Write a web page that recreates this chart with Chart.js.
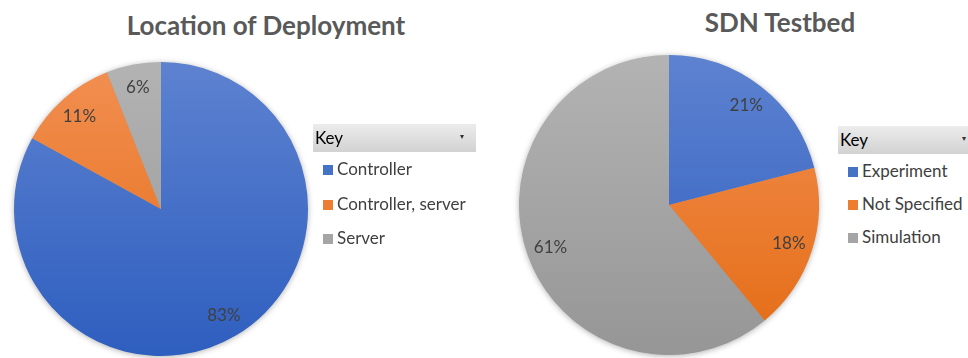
<!DOCTYPE html>
<html>
<head>
<meta charset="utf-8">
<script src="https://cdn.jsdelivr.net/npm/chart.js@4.4.0/dist/chart.umd.min.js"></script>
<style>
  body { margin: 0; width: 968px; height: 358px; background: #fff; overflow: hidden; position: relative;
         font-family: Lato, "Open Sans", sans-serif; }
  .title { position: absolute; font-weight: bold; color: #595959; font-size: 26px; white-space: nowrap;
           transform: translateX(-50%); line-height: 1; }
  canvas { position: absolute; }
  .key { position: absolute; color: #404040; font-size: 17px; }
  .keyhead { height: 28px; line-height: 28px; color: #000; padding-left: 2px;
             background: linear-gradient(#ececec, #d2d2d2); position: relative; }
  .keyhead span { position: absolute; right: 12px; top: -2px; font-size: 8px; color: #333; }
  .item { position: absolute; white-space: nowrap; line-height: 20px; }
  .item i { display: inline-block; width: 10px; height: 10px; margin-right: 4px; vertical-align: 0px; }
</style>
</head>
<body>
<div class="title" id="t1" style="left:266px; top:12px;">Location of Deployment</div>
<div class="title" id="t2" style="left:780px; top:9px;">SDN Testbed</div>
<canvas id="pie1" width="314" height="314" style="left:4px; top:52px;"></canvas>
<canvas id="pie2" width="320" height="320" style="left:509px; top:45px;"></canvas>
<div class="key" id="key1" style="left:313px; top:124px; width:163px;"></div>
<div class="key" id="key2" style="left:838px; top:126px; width:140px;"></div>
<script>
"use strict";
const deployLabels = ['Controller', 'Controller, server', 'Server'];
const deployValues = [83, 11, 6];
const testbedLabels = ['Experiment', 'Not Specified', 'Simulation'];
const testbedValues = [21, 18, 61];

// blue, orange, gray : [top, bottom, legend]
const shades = [
  ['#5d82d0', '#2e5ebf', '#4472c4'],
  ['#f28f52', '#e46c14', '#ed7d31'],
  ['#b3b3b3', '#969696', '#a5a5a5']
];

function sliceFill(c) {
  const chart = c.chart;
  const area = chart.chartArea;
  const s = shades[c.dataIndex];
  if (!area) return s[2];
  const g = chart.ctx.createLinearGradient(0, area.top, 0, area.bottom);
  g.addColorStop(0, s[0]);
  g.addColorStop(1, s[1]);
  return g;
}

const pieShadow = {
  id: 'pieShadow',
  beforeDatasetsDraw(chart) {
    const arc = chart.getDatasetMeta(0).data[0];
    if (!arc) return;
    const ctx = chart.ctx;
    ctx.save();
    ctx.shadowColor = 'rgba(0,0,0,0.35)';
    ctx.shadowBlur = 6;
    ctx.shadowOffsetY = 1;
    ctx.fillStyle = '#999';
    ctx.beginPath();
    ctx.arc(arc.x, arc.y, arc.outerRadius - 0.5, 0, Math.PI * 2);
    ctx.fill();
    ctx.restore();
  }
};

const pctLabels = {
  id: 'pctLabels',
  afterDatasetsDraw(chart) {
    const ctx = chart.ctx;
    const data = chart.data.datasets[0].data;
    ctx.save();
    ctx.font = '17px Lato';
    ctx.fillStyle = '#404040';
    ctx.textAlign = 'center';
    ctx.textBaseline = 'middle';
    chart.getDatasetMeta(0).data.forEach((arc, i) => {
      const mid = (arc.startAngle + arc.endAngle) / 2;
      const r = arc.outerRadius * 0.84;
      ctx.fillText(data[i] + '%', arc.x + Math.cos(mid) * r, arc.y + Math.sin(mid) * r);
    });
    ctx.restore();
  }
};

function makePie(id, labels, values) {
  return new Chart(document.getElementById(id), {
    type: 'pie',
    plugins: [pieShadow, pctLabels],
    data: {
      labels: labels,
      datasets: [{ data: values, backgroundColor: sliceFill, borderWidth: 0 }]
    },
    options: {
      responsive: false,
      animation: false,
      layout: { padding: 10 },
      plugins: { legend: { display: false }, tooltip: { enabled: false } }
    }
  });
}

function makeKey(id, labels, gap) {
  const box = document.getElementById(id);
  let html = '<div class="keyhead">Key<span>&#9662;</span></div>';
  labels.forEach((l, i) => {
    html += '<div class="item" style="left:10px; top:' + (35 + i * gap) + 'px;"><i style="background:' +
      shades[i][2] + '"></i>' + l + '</div>';
  });
  box.innerHTML = html;
}

makePie('pie1', deployLabels, deployValues);
makePie('pie2', testbedLabels, testbedValues);
makeKey('key1', deployLabels, 34.5);
makeKey('key2', testbedLabels, 33);
</script>
</body>
</html>
